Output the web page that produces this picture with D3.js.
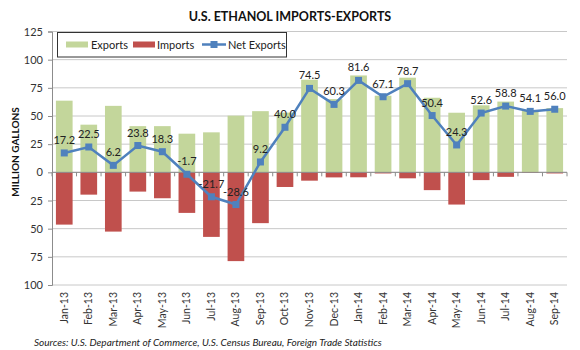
<!DOCTYPE html>
<html><head><meta charset="utf-8">
<script src="https://cdn.jsdelivr.net/npm/d3@7"></script>
<style>body{margin:0;background:#fff}svg{display:block}text{font-family:Lato,"Open Sans",sans-serif}</style>
</head><body><svg id="c" width="580" height="350"></svg>
<script>
const categories = ["Jan-13","Feb-13","Mar-13","Apr-13","May-13","Jun-13","Jul-13","Aug-13","Sep-13","Oct-13","Nov-13","Dec-13","Jan-14","Feb-14","Mar-14","Apr-14","May-14","Jun-14","Jul-14","Aug-14","Sep-14"];
const exportsVals = [63.6,42.3,59.0,41.0,41.0,34.3,35.5,50.3,54.3,53.0,82.2,65.0,86.0,68.0,84.0,66.2,52.9,59.5,62.8,54.6,57.0];
const importsVals = [46.4,19.8,52.6,17.1,23.0,36.0,57.3,78.8,45.1,13.0,7.4,4.5,4.4,1.0,5.3,15.8,28.6,6.9,4.0,0.5,1.0];
const netVals = [17.2,22.5,6.2,23.8,18.3,-1.7,-21.7,-28.6,9.2,40.0,74.5,60.3,81.6,67.1,78.7,50.4,24.3,52.6,58.8,54.1,56.0];
const yTicks = [125,100,75,50,25,0,-25,-50,-75,-100];
const yTickLabels = ["125","100","75","50","25","0","25","50","75","100"];

const svg = d3.select("#c");
const L=52,R=567,T=31.5,B=285;
const x = d3.scaleBand().domain(categories).range([L,R]).paddingInner(0.32).paddingOuter(0.16);
const xb = d3.scaleBand().domain(categories).range([L,R]);
const y = d3.scaleLinear().domain([-100,125]).range([B,T]);

// gridlines
svg.append("g").selectAll("line").data(yTicks).join("line")
  .attr("x1",L).attr("x2",R).attr("y1",d=>y(d)).attr("y2",d=>y(d))
  .attr("stroke","#c8c8c8").attr("stroke-width",1);

// y axis
const yAxis = d3.axisLeft(y).tickValues(yTicks).tickSize(4).tickPadding(5)
  .tickFormat((d,i)=>yTickLabels[i]);
const ga = svg.append("g").attr("transform",`translate(${L},0)`).call(yAxis);
ga.select(".domain").attr("stroke","#8c8c8c");
ga.selectAll(".tick line").attr("stroke","#8c8c8c");
ga.selectAll("text").attr("font-size",11).attr("fill","#333");

// bars
svg.append("g").selectAll("rect").data(categories).join("rect")
  .attr("x",d=>x(d)).attr("width",x.bandwidth())
  .attr("y",(d,i)=>y(exportsVals[i])).attr("height",(d,i)=>y(0)-y(exportsVals[i]))
  .attr("fill","#c3d69b");
svg.append("g").selectAll("rect").data(categories).join("rect")
  .attr("x",d=>x(d)).attr("width",x.bandwidth())
  .attr("y",y(0)).attr("height",(d,i)=>y(-importsVals[i])-y(0))
  .attr("fill","#c0504d");

// x axis at zero
const xAxisG = svg.append("g").attr("transform",`translate(0,${y(0)})`);
xAxisG.append("line").attr("x1",L).attr("x2",R).attr("stroke","#8c8c8c");
xAxisG.selectAll("line.t").data(categories.concat(["end"])).join("line").attr("class","t")
  .attr("x1",(d,i)=>L+i*xb.bandwidth()).attr("x2",(d,i)=>L+i*xb.bandwidth())
  .attr("y1",0).attr("y2",4).attr("stroke","#8c8c8c");

// x labels
svg.append("g").selectAll("text").data(categories).join("text")
  .attr("transform",d=>`translate(${xb(d)+xb.bandwidth()/2+3.5},292) rotate(-90)`)
  .attr("text-anchor","end").attr("font-size",10.5).attr("fill","#333").text(d=>d);

// net line
const cx = d=>xb(d)+xb.bandwidth()/2;
svg.append("path").datum(categories)
  .attr("d",d3.line().x(d=>cx(d)).y((d,i)=>y(netVals[i])))
  .attr("fill","none").attr("stroke","#4f81bd").attr("stroke-width",2.5);
svg.append("g").selectAll("rect").data(categories).join("rect")
  .attr("x",d=>cx(d)-3.5).attr("y",(d,i)=>y(netVals[i])-3.5)
  .attr("width",7).attr("height",7).attr("fill","#4f81bd");
svg.append("g").selectAll("text").data(categories).join("text")
  .attr("x",d=>cx(d)).attr("y",(d,i)=>y(netVals[i])-9)
  .attr("text-anchor","middle").attr("font-size",11).attr("fill","#222")
  .text((d,i)=>netVals[i].toFixed(1));

// legend
const lg = svg.append("g");
lg.append("rect").attr("x",57.5).attr("y",32.5).attr("width",229).attr("height",24.5)
  .attr("fill","#fff").attr("stroke","#333").attr("stroke-width",1);
lg.append("rect").attr("x",66).attr("y",41.5).attr("width",22).attr("height",6).attr("fill","#c3d69b");
lg.append("text").attr("x",91).attr("y",48.5).attr("font-size",11).attr("fill","#222").text("Exports");
lg.append("rect").attr("x",133).attr("y",41.5).attr("width",22).attr("height",6).attr("fill","#c0504d");
lg.append("text").attr("x",157).attr("y",48.5).attr("font-size",11).attr("fill","#222").text("Imports");
lg.append("line").attr("x1",202).attr("x2",226).attr("y1",44.5).attr("y2",44.5).attr("stroke","#4f81bd").attr("stroke-width",2.5);
lg.append("rect").attr("x",210.5).attr("y",41).attr("width",7).attr("height",7).attr("fill","#4f81bd");
lg.append("text").attr("x",228).attr("y",48.5).attr("font-size",11).attr("fill","#222").text("Net Exports");

// title
svg.append("text").attr("x",290).attr("y",21).attr("text-anchor","middle")
  .attr("font-size",12.5).attr("font-weight","bold").attr("fill","#111").text("U.S. ETHANOL IMPORTS-EXPORTS");
// y title
svg.append("text").attr("transform","translate(19,152) rotate(-90)").attr("text-anchor","middle")
  .attr("font-size",10).attr("font-weight","bold").attr("fill","#111").text("MILLION GALLONS");
// source
svg.append("text").attr("x",34).attr("y",346).attr("font-size",10).attr("font-style","italic")
  .attr("fill","#222").text("Sources:  U.S. Department  of Commerce,  U.S. Census Bureau, Foreign Trade Statistics");
</script></body></html>
